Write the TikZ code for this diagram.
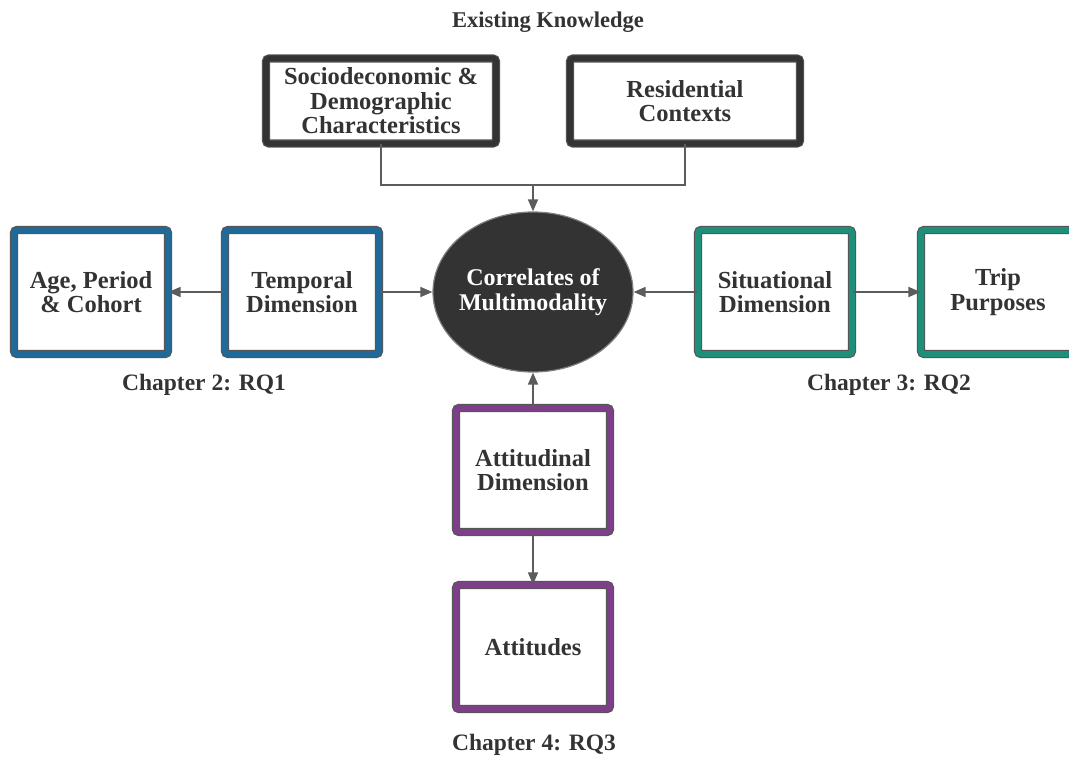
\documentclass[tikz,border=0pt]{standalone}
\usepackage{fontspec}
\setmainfont{Liberation Serif}
\usetikzlibrary{arrows.meta,shapes.geometric}

\definecolor{inkgray}{HTML}{333333}
\definecolor{edgegray}{HTML}{555555}
\definecolor{linegray}{HTML}{5C5C5C}
\definecolor{darkframe}{HTML}{333333}
\definecolor{timeblue}{HTML}{1F6A98}
\definecolor{placeteal}{HTML}{1E8F78}
\definecolor{mindpurple}{HTML}{7D3F87}

\begin{document}
\begin{tikzpicture}
[x=1pt,y=-1pt]
\tikzset{framed/.style={rectangle,rounded corners=3pt,fill=white,draw=edgegray,line width=1.1pt,double=#1,double distance=6pt,minimum width=154pt,minimum height=124pt,inner sep=2pt,align=center,text=inkgray,font=\bfseries\fontsize{24.5}{24.5}\selectfont}}
\tikzset{topframe/.style={framed=darkframe,minimum width=230pt,minimum height=85pt}}
\tikzset{core/.style={ellipse,fill=darkframe,draw=gray,line width=1.2pt,minimum width=200pt,minimum height=160pt,inner xsep=-10pt,inner ysep=0pt,align=center,text=white,font=\bfseries\fontsize{24}{24.5}\selectfont}}
\tikzset{caption/.style={text=inkgray,font=\bfseries\fontsize{23.5}{24}\selectfont}}
\tikzset{link/.style={draw=linegray,line width=1.5pt}}
\tikzset{arrowlink/.style={link,-{Triangle[length=12pt,width=10pt]}}}

\clip (0,0) rectangle (1069,760);
\fill[white] (0,0) rectangle (1069,760);

\node [caption,font=\bfseries\fontsize{22.5}{24}\selectfont] (known) at (548,22) {Existing Knowledge};
\node [topframe] (socio) at (381,101) {Sociodeconomic \&\\Demographic\\Characteristics};
\node [topframe] (resid) at (685,101) {Residential\\Contexts};
\coordinate (join) at (533,185);

\node [core] (corr) at (533,292) {Correlates of\\Multimodality};

\node [framed=timeblue] (apc) at (91,292) {Age, Period\\\& Cohort};
\node [framed=timeblue] (temp) at (302,292) {Temporal\\Dimension};
\node [caption] (ch2) at (204,385) {Chapter 2: RQ1};

\node [framed=placeteal] (situ) at (775,292) {Situational\\Dimension};
\node [framed=placeteal] (trip) at (998,292) {Trip\\Purposes};
\node [caption] (ch3) at (889,385) {Chapter 3: RQ2};

\node [framed=mindpurple] (atti) at (533,470) {Attitudinal\\Dimension};
\node [framed=mindpurple] (attd) at (533,647) {Attitudes};
\node [caption] (ch4) at (534,745) {Chapter 4: RQ3};

\draw [link] (socio.south) |- (join);
\draw [link] (resid.south) |- (join);
\draw [arrowlink] (join) -- (corr.north);

\foreach \from/\to in {temp/apc,temp/corr,situ/corr,situ/trip,atti/corr,atti/attd}
	\draw [arrowlink] (\from) -- (\to);

\end{tikzpicture}
\end{document}
